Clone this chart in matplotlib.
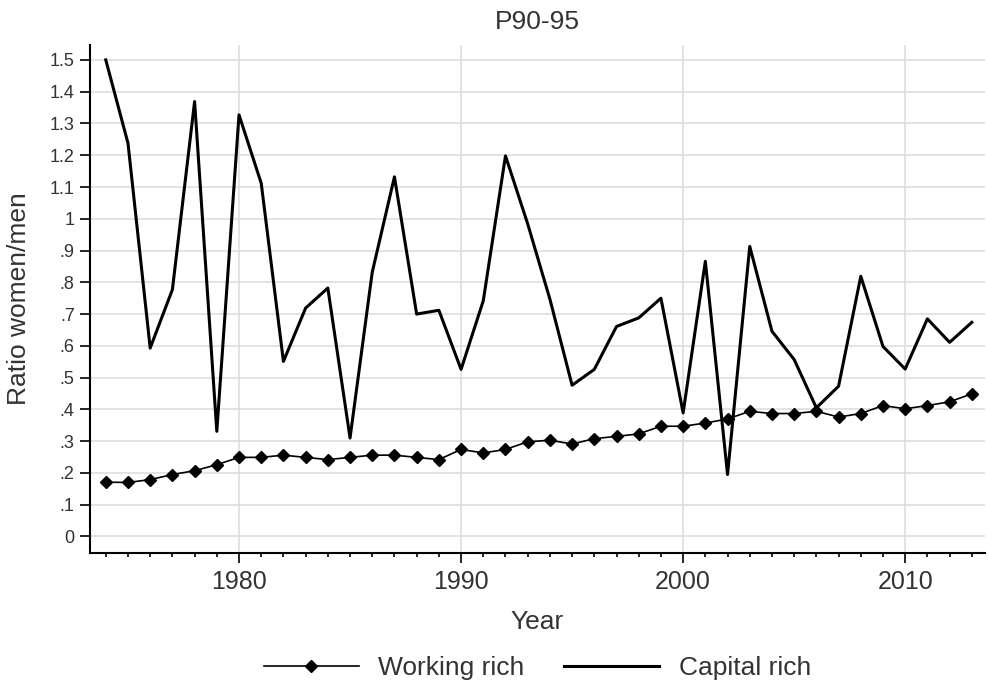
import numpy as np
import matplotlib
matplotlib.use('Agg')
from matplotlib import pyplot as plt
from matplotlib.ticker import FixedLocator, MultipleLocator

plt.rcParams['font.family'] = ['Liberation Sans', 'DejaVu Sans']

years = np.arange(1974, 2014)

working_rich = [0.171, 0.170, 0.179, 0.195, 0.207, 0.226, 0.249, 0.249, 0.256, 0.249,
                0.242, 0.249, 0.256, 0.256, 0.249, 0.242, 0.274, 0.263, 0.274, 0.298,
                0.303, 0.291, 0.308, 0.315, 0.323, 0.347, 0.347, 0.357, 0.370, 0.394,
                0.387, 0.387, 0.394, 0.376, 0.387, 0.412, 0.402, 0.412, 0.424, 0.449]

capital_rich = [1.500, 1.238, 0.593, 0.777, 1.369, 0.331, 1.327, 1.112, 0.551, 0.719,
                0.782, 0.310, 0.832, 1.132, 0.700, 0.712, 0.526, 0.742, 1.198, 0.984,
                0.747, 0.476, 0.526, 0.661, 0.688, 0.750, 0.389, 0.866, 0.195, 0.913,
                0.646, 0.557, 0.405, 0.473, 0.819, 0.598, 0.527, 0.685, 0.611, 0.674]

y_ticks = np.round(np.arange(0, 1.51, 0.1), 1)
y_labels = ['0', '.1', '.2', '.3', '.4', '.5', '.6', '.7', '.8', '.9',
            '1', '1.1', '1.2', '1.3', '1.4', '1.5']
x_ticks = [1980, 1990, 2000, 2010]

txt = '#333333'
fig = plt.figure(figsize=(9.88, 6.91), dpi=100)
ax = fig.add_axes([0.0911, 0.1997, 0.906, 0.7352])

ax.plot(years, working_rich, color='black', lw=1.2, marker='D', markersize=6.5,
        label='Working rich', zorder=3)
ax.plot(years, capital_rich, color='black', lw=2.2, label='Capital rich', zorder=2)

ax.set_xlim(1973.29, 2013.6)
ax.set_ylim(-0.052, 1.547)

ax.yaxis.set_major_locator(FixedLocator(y_ticks))
ax.set_yticklabels(y_labels)
ax.xaxis.set_major_locator(FixedLocator(x_ticks))
ax.xaxis.set_minor_locator(MultipleLocator(1))

ax.grid(True, which='major', color='#dedede', lw=1.2)
ax.set_axisbelow(True)
for s in ['top', 'right']:
    ax.spines[s].set_visible(False)
for s in ['left', 'bottom']:
    ax.spines[s].set_linewidth(1.5)

ax.tick_params(axis='y', length=7, width=1.2, labelsize=13, labelcolor=txt, pad=4)
ax.tick_params(axis='x', which='major', length=7, width=1.2, labelsize=18,
               labelcolor=txt, pad=5)
ax.tick_params(axis='x', which='minor', length=3, width=1.2)

fig.text(0.544, 1 - 22 / 691, 'P90-95', fontsize=19, color=txt, ha='center', va='center')
ax.set_xlabel('Year', fontsize=19, color=txt)
ax.xaxis.set_label_coords(0.5, -0.112)
ax.set_ylabel('Ratio women/men', fontsize=19, color=txt)
ax.yaxis.set_label_coords(-0.066, 0.5)

fig.legend(loc='center', bbox_to_anchor=(0.544, 0.033), ncol=2, frameon=False,
           fontsize=19, handlelength=3.6, columnspacing=1.5, handletextpad=0.75,
           labelcolor=txt)

fig.savefig('out.png', dpi=100)
